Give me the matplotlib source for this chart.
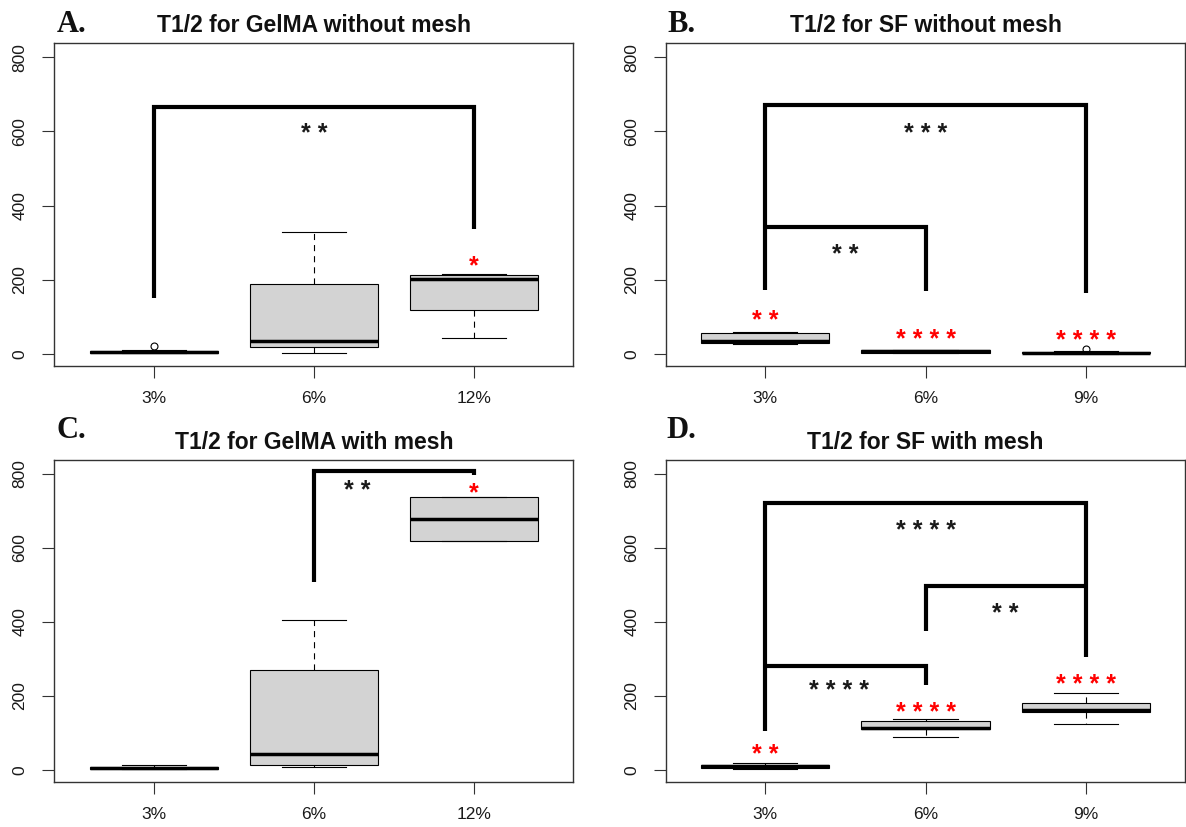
import matplotlib
matplotlib.use("Agg")
import matplotlib.pyplot as plt

plt.rcParams["font.family"] = ["Liberation Sans", "DejaVu Sans"]

GELMA_GROUPS = ["3%", "6%", "12%"]
SF_GROUPS = ["3%", "6%", "9%"]

# (lower whisker, Q1, median, Q3, upper whisker) per group
GELMA_NOMESH = [(2, 3, 6, 9, 12), (3, 18, 36, 190, 328), (42, 119, 203, 214, 217)]
GELMA_NOMESH_OUT = [[22], [], []]
SF_NOMESH = [(27, 31, 36, 57, 60), (3, 4, 7, 10, 12), (1, 2, 4, 6, 8)]
SF_NOMESH_OUT = [[], [], [13]]
GELMA_MESH = [(1, 2, 4, 7, 12), (8, 12, 44, 270, 406), (617, 617, 679, 737, 737)]
GELMA_MESH_OUT = [[], [], []]
SF_MESH = [(3, 5, 10, 14, 19), (89, 109, 114, 132, 136), (125, 156, 161, 180, 207)]
SF_MESH_OUT = [[], [], []]

# comparison brackets as polylines (group position, value)
GELMA_NOMESH_BR = [([1, 1, 3, 3], [150, 666, 666, 336])]
SF_NOMESH_BR = [([1, 1, 3, 3], [173, 672, 672, 164]),
                ([1, 2, 2], [341, 341, 169])]
GELMA_MESH_BR = [([2, 2, 3, 3], [507, 807, 807, 796])]
SF_MESH_BR = [([1, 1, 3, 3], [105, 722, 722, 306]),
              ([2, 2, 3], [375, 498, 498]),
              ([1, 2, 2], [281, 281, 228])]

# significance marks: (x, y, stars, colour)
GELMA_NOMESH_SIG = [(2, 609, "* *", "#1a1a1a"), (3, 250, "*", "red")]
SF_NOMESH_SIG = [(2, 608, "* * *", "#1a1a1a"), (1.5, 283, "* *", "#1a1a1a"),
                 (1, 105, "* *", "red"), (2, 53, "* * * *", "red"),
                 (3, 49, "* * * *", "red")]
GELMA_MESH_SIG = [(2.27, 767, "* *", "#1a1a1a"), (3, 762, "*", "red")]
SF_MESH_SIG = [(2, 660, "* * * *", "#1a1a1a"), (2.5, 437, "* *", "#1a1a1a"),
               (1.46, 228, "* * * *", "#1a1a1a"), (1, 55, "* *", "red"),
               (2, 167, "* * * *", "red"), (3, 243, "* * * *", "red")]

PANELS = [
    ("A.", "T1/2 for GelMA without mesh", GELMA_GROUPS, GELMA_NOMESH, GELMA_NOMESH_OUT,
     GELMA_NOMESH_BR, GELMA_NOMESH_SIG),
    ("B.", "T1/2 for SF without mesh", SF_GROUPS, SF_NOMESH, SF_NOMESH_OUT,
     SF_NOMESH_BR, SF_NOMESH_SIG),
    ("C.", "T1/2 for GelMA with mesh", GELMA_GROUPS, GELMA_MESH, GELMA_MESH_OUT,
     GELMA_MESH_BR, GELMA_MESH_SIG),
    ("D.", "T1/2 for SF with mesh", SF_GROUPS, SF_MESH, SF_MESH_OUT,
     SF_MESH_BR, SF_MESH_SIG),
]

W, H = 1186, 827
fig = plt.figure(figsize=(W / 100, H / 100), dpi=100)

# axes boxes in pixels: left, top, right, bottom
BOXES = [(54.3, 43.3, 573.3, 366), (666, 43.3, 1185, 366),
         (54.3, 460, 573.3, 781.7), (666, 460, 1185, 781.7)]
LETTER_POS = [(57, 32), (667, 32), (57, 438), (666, 438)]
STAR_FS = 18

for (letter, title, groups, summ, outl, brackets, sig), (l, t, r, b), (lx, ly) in zip(
        PANELS, BOXES, LETTER_POS):
    ax = fig.add_axes([l / W, 1 - b / H, (r - l) / W, (b - t) / H])
    stats = [dict(whislo=s[0], q1=s[1], med=s[2], q3=s[3], whishi=s[4], fliers=o)
             for s, o in zip(summ, outl)]
    ax.bxp(stats, positions=[1, 2, 3], widths=0.8, capwidths=0.4,
           patch_artist=True, showfliers=True,
           boxprops=dict(facecolor="#d3d3d3", edgecolor="black", linewidth=0.8),
           medianprops=dict(color="black", linewidth=2.5, solid_capstyle="butt"),
           whiskerprops=dict(color="black", linewidth=0.8, linestyle=(0, (5.5, 4.5))),
           capprops=dict(color="black", linewidth=0.8),
           flierprops=dict(marker="o", markersize=5, markerfacecolor="none",
                           markeredgecolor="black", markeredgewidth=0.8))

    for xs, ys in brackets:
        ax.plot(xs, ys, color="black", linewidth=3.0, solid_capstyle="butt",
                solid_joinstyle="miter", zorder=4)
    for x, y, s, c in sig:
        # anchor the asterisk ink (not the text baseline) on the value
        ax.annotate(s, xy=(x, y), xytext=(0, -0.5 * STAR_FS), textcoords="offset points",
                    ha="center", va="baseline", fontsize=STAR_FS, fontweight="bold",
                    color=c, zorder=5)

    ax.set_xlim(0.38, 3.62)
    ax.set_ylim(-32.2, 837.2)
    ax.set_xticks([1, 2, 3])
    ax.set_xticklabels(groups)
    ax.set_yticks([0, 200, 400, 600, 800])
    ax.set_yticklabels(["0", "200", "400", "600", "800"], rotation=90, va="center")
    ax.tick_params(length=8.3, width=0.8, color="#333333", labelsize=12.5,
                   labelcolor="#1a1a1a")
    ax.tick_params(axis="y", pad=11)
    ax.tick_params(axis="x", pad=10)
    for sp in ax.spines.values():
        sp.set_color("#333333")
        sp.set_linewidth(1.0)

    ax.set_title(title, fontsize=16.5, fontweight="bold", pad=8.1, color="#111111")
    fig.text(lx / W, 1 - ly / H, letter, family="Liberation Serif", fontweight="bold",
             fontsize=22, ha="left", va="baseline", color="#111111")

fig.savefig("out.png", dpi=100)
